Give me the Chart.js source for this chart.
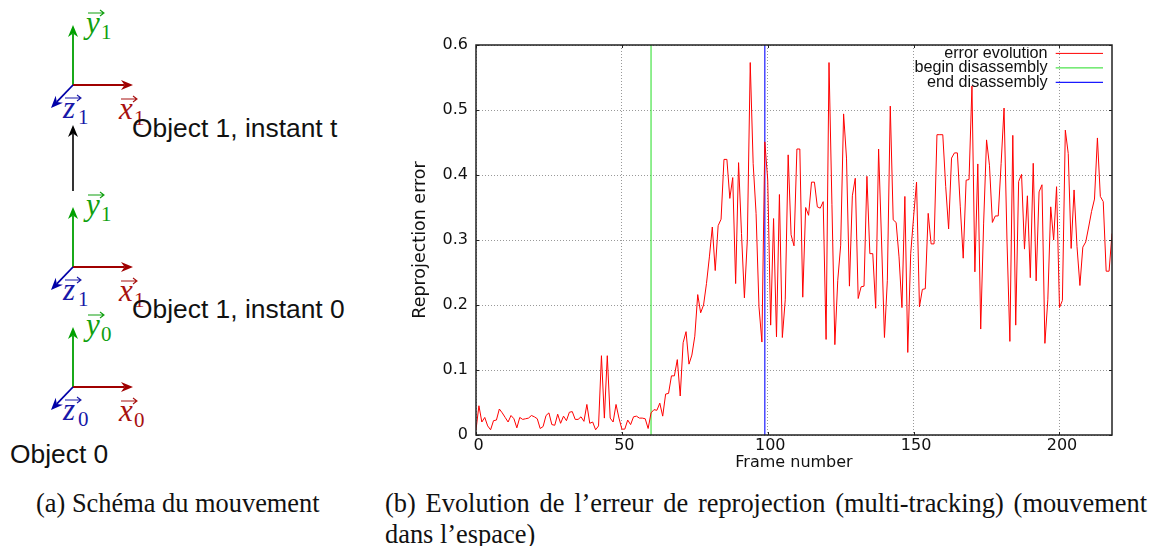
<!DOCTYPE html>
<html>
<head>
<meta charset="utf-8">
<script src="https://cdn.jsdelivr.net/npm/chart.js@4/dist/chart.umd.min.js"></script>
<style>
  html, body { margin: 0; padding: 0; background: #fff; }
  body { position: relative; width: 1154px; height: 546px; overflow: hidden; }
  #schema { position: absolute; left: 0; top: 0; }
  #wrap { position: absolute; left: 400px; top: 20px; width: 730px; height: 452px; }
  .caption { position: absolute; font: 26.4px/31px "Liberation Serif", serif; color: #111; }
  #capA { left: 36px; top: 488px; white-space: nowrap; }
  #capB { left: 385px; top: 488px; width: 762px; text-align: justify; }
</style>
</head>
<body>
<svg id="schema" width="400" height="480"></svg>
<div id="wrap"><canvas id="chart" width="730" height="452"></canvas></div>
<div class="caption" id="capA">(a) Schéma du mouvement</div>
<div class="caption" id="capB">(b) Evolution de l’erreur de reprojection (multi-tracking) (mouvement dans l’espace)</div>
<script>
// reprojection error per frame (frames 0..218)
const errorValues = [
  0.008, 0.045, 0.020, 0.027, 0.014, 0.008, 0.022, 0.023, 0.040, 0.034,
  0.027, 0.020, 0.030, 0.025, 0.011, 0.027, 0.024, 0.025, 0.026, 0.030,
  0.028, 0.025, 0.010, 0.013, 0.030, 0.034, 0.016, 0.015, 0.032, 0.018,
  0.029, 0.022, 0.035, 0.036, 0.024, 0.024, 0.028, 0.021, 0.047, 0.018,
  0.020, 0.008, 0.014, 0.122, 0.026, 0.122, 0.026, 0.020, 0.047, 0.026,
  0.009, 0.009, 0.023, 0.016, 0.028, 0.029, 0.026, 0.026, 0.025, 0.010,
  0.034, 0.039, 0.038, 0.049, 0.029, 0.063, 0.064, 0.091, 0.091, 0.116,
  0.060, 0.142, 0.159, 0.109, 0.123, 0.152, 0.216, 0.188, 0.200, 0.233,
  0.274, 0.320, 0.253, 0.322, 0.332, 0.424, 0.424, 0.364, 0.396, 0.233,
  0.419, 0.310, 0.211, 0.300, 0.573, 0.418, 0.341, 0.197, 0.143, 0.451,
  0.392, 0.169, 0.333, 0.151, 0.370, 0.150, 0.208, 0.431, 0.308, 0.291,
  0.440, 0.440, 0.212, 0.350, 0.338, 0.389, 0.389, 0.351, 0.349, 0.359,
  0.147, 0.573, 0.355, 0.139, 0.238, 0.292, 0.494, 0.426, 0.229, 0.368,
  0.395, 0.210, 0.228, 0.229, 0.398, 0.279, 0.279, 0.195, 0.440, 0.300,
  0.150, 0.238, 0.506, 0.331, 0.327, 0.274, 0.196, 0.367, 0.127, 0.279,
  0.336, 0.389, 0.197, 0.224, 0.225, 0.341, 0.294, 0.294, 0.462, 0.462,
  0.462, 0.382, 0.317, 0.426, 0.434, 0.434, 0.351, 0.272, 0.392, 0.393,
  0.537, 0.251, 0.417, 0.163, 0.326, 0.454, 0.415, 0.327, 0.337, 0.337,
  0.418, 0.503, 0.300, 0.144, 0.461, 0.169, 0.390, 0.401, 0.286, 0.368,
  0.242, 0.418, 0.237, 0.374, 0.385, 0.141, 0.208, 0.351, 0.300, 0.382,
  0.196, 0.207, 0.469, 0.433, 0.287, 0.377, 0.290, 0.230, 0.289, 0.297,
  0.320, 0.344, 0.363, 0.457, 0.367, 0.359, 0.252, 0.252, 0.310
];
const beginFrame = 60;
const endFrame = 99;
const yRange = [0, 0.6];
const seriesNames = ["error evolution", "begin disassembly", "end disassembly"];
const seriesColors = ["#ff0000", "#22dd22", "#1a1aff"];

const frameBox = {
  id: "frameBox",
  afterLayout(chart) {
    // legend sits inside the plot, top right
    const lg = chart.legend;
    lg.left = chart.chartArea.right - lg.width - 9;
    lg.right = lg.left + lg.width;
    lg.top = chart.chartArea.top + 2;
    lg.adjustHitBoxes();
  },
  afterDraw(chart) {
    const { ctx, chartArea: a, scales } = chart;
    ctx.save();
    ctx.strokeStyle = "#222";
    ctx.lineWidth = 1;
    scales.x.ticks.forEach((t) => {
      const px = Math.round(scales.x.getPixelForValue(t.value)) + 0.5;
      [[a.top, 3], [a.bottom, -3]].forEach(([y, d]) => {
        ctx.beginPath(); ctx.moveTo(px, y); ctx.lineTo(px, y + d); ctx.stroke();
      });
    });
    scales.y.ticks.forEach((t) => {
      const py = Math.round(scales.y.getPixelForValue(t.value)) + 0.5;
      [[a.left, 3], [a.right, -3]].forEach(([x, d]) => {
        ctx.beginPath(); ctx.moveTo(x, py); ctx.lineTo(x + d, py); ctx.stroke();
      });
    });
    ctx.lineWidth = 1.5;
    ctx.strokeRect(a.left, a.top, a.right - a.left, a.bottom - a.top);
    ctx.restore();
  },
};

const gridStyle = { color: "#999", lineWidth: 1, tickLength: 0 };
const borderStyle = { display: false, dash: [1, 2] };
const plain = { pointRadius: 0, pointStyle: "line", tension: 0 };

new Chart(document.getElementById("chart"), {
  type: "line",
  data: {
    datasets: [
      {
        ...plain, label: seriesNames[0], borderColor: seriesColors[0], backgroundColor: seriesColors[0], borderWidth: 1,
        data: errorValues.map((y, i) => ({ x: i, y })),
      },
      {
        ...plain, label: seriesNames[1], borderColor: seriesColors[1], backgroundColor: seriesColors[1], borderWidth: 1,
        data: yRange.map((y) => ({ x: beginFrame, y })),
      },
      {
        ...plain, label: seriesNames[2], borderColor: seriesColors[2], backgroundColor: seriesColors[2], borderWidth: 1.2,
        data: yRange.map((y) => ({ x: endFrame, y })),
      },
    ],
  },
  options: {
    responsive: false,
    animation: false,
    layout: { padding: { top: 25, right: 18, left: 0, bottom: 0 } },
    plugins: {
      tooltip: { enabled: false },
      legend: {
        position: "chartArea",
        align: "start",
        rtl: true,
        labels: {
          usePointStyle: true,
          pointStyleWidth: 49,
          padding: -1.7,
          color: "#111",
          font: { family: "Liberation Sans", size: 16.2, lineHeight: 0.9 },
        },
      },
    },
    scales: {
      x: {
        type: "linear",
        min: 0,
        max: 218,
        grid: gridStyle,
        border: borderStyle,
        afterFit: (s) => { s.height = 37; },
        ticks: {
          stepSize: 50,
          includeBounds: false,
          maxRotation: 0,
          labelOffset: 2.5,
          padding: 1,
          color: "#111",
          font: { family: "DejaVu Sans", size: 16 },
        },
        title: {
          display: true,
          text: "Frame number",
          color: "#111",
          padding: { top: 0, bottom: 0 },
          font: { family: "DejaVu Sans", size: 16 },
        },
      },
      y: {
        min: yRange[0],
        max: yRange[1],
        grid: gridStyle,
        border: borderStyle,
        afterFit: (s) => { s.width = 76; },
        ticks: {
          stepSize: 0.1,
          padding: 8,
          color: "#111",
          font: { family: "DejaVu Sans", size: 16 },
        },
        title: {
          display: true,
          text: "Reprojection error",
          color: "#111",
          padding: { top: 10, bottom: 0 },
          font: { family: "DejaVu Sans", size: 17.5 },
        },
      },
    },
  },
  plugins: [frameBox],
});

// left panel: the coordinate frames schematic
const frames = [
  { y: 85, xSub: "1", ySub: "1", zSub: "1" },
  { y: 267, xSub: "1", ySub: "1", zSub: "1" },
  { y: 387, xSub: "0", ySub: "0", zSub: "0" },
];
const notes = [
  { text: "Object 1, instant t", x: 132, y: 137 },
  { text: "Object 1, instant 0", x: 132, y: 318 },
  { text: "Object 0", x: 10, y: 463 },
];
const RED = "#a00000", GREEN = "#00a000", BLUE = "#0000a8";

function arrow(x1, y1, x2, y2, color, w) {
  const a = Math.atan2(y2 - y1, x2 - x1), L = 12, H = 5;
  const bx = x2 - L * Math.cos(a), by = y2 - L * Math.sin(a);
  const nx = -Math.sin(a) * H, ny = Math.cos(a) * H;
  const mx = x2 - 0.7 * L * Math.cos(a), my = y2 - 0.7 * L * Math.sin(a);
  return `<line x1="${x1}" y1="${y1}" x2="${mx}" y2="${my}" stroke="${color}" stroke-width="${w}"/>` +
    `<path d="M${x2} ${y2}L${bx + nx} ${by + ny}L${mx} ${my}L${bx - nx} ${by - ny}Z" fill="${color}"/>`;
}

function vecLabel(x, y, letter, sub, color) {
  const ax = x + 2, ay = y - 20;
  return `<text x="${x}" y="${y}" font-family="Liberation Serif" font-style="italic" font-size="31" fill="${color}">${letter}</text>` +
    `<text x="${x + 15}" y="${y + 6}" font-family="Liberation Serif" font-size="21" fill="${color}">${sub}</text>` +
    `<path d="M${ax} ${ay}H${ax + 15}M${ax + 12} ${ay - 3}L${ax + 16} ${ay}L${ax + 12} ${ay + 3}" fill="none" stroke="${color}" stroke-width="1.1"/>`;
}

let svg = "";
frames.forEach((f) => {
  svg += arrow(73, f.y, 73, f.y - 60, GREEN, 1.8);
  svg += arrow(73, f.y, 133, f.y, RED, 1.8);
  svg += arrow(73, f.y, 51, f.y + 23, BLUE, 1.8);
  svg += vecLabel(86, f.y - 52, "y", f.ySub, "#10a010");
  svg += vecLabel(119, f.y + 34, "x", f.xSub, "#a81010");
  svg += vecLabel(63, f.y + 33, "z", f.zSub, "#1818a8");
});
svg += arrow(73, 191, 73, 125, "#000", 1.6);
notes.forEach((n) => {
  svg += `<text x="${n.x}" y="${n.y}" font-family="Liberation Sans" font-size="26.4" fill="#111">${n.text}</text>`;
});
document.getElementById("schema").innerHTML = svg;
</script>
</body>
</html>
